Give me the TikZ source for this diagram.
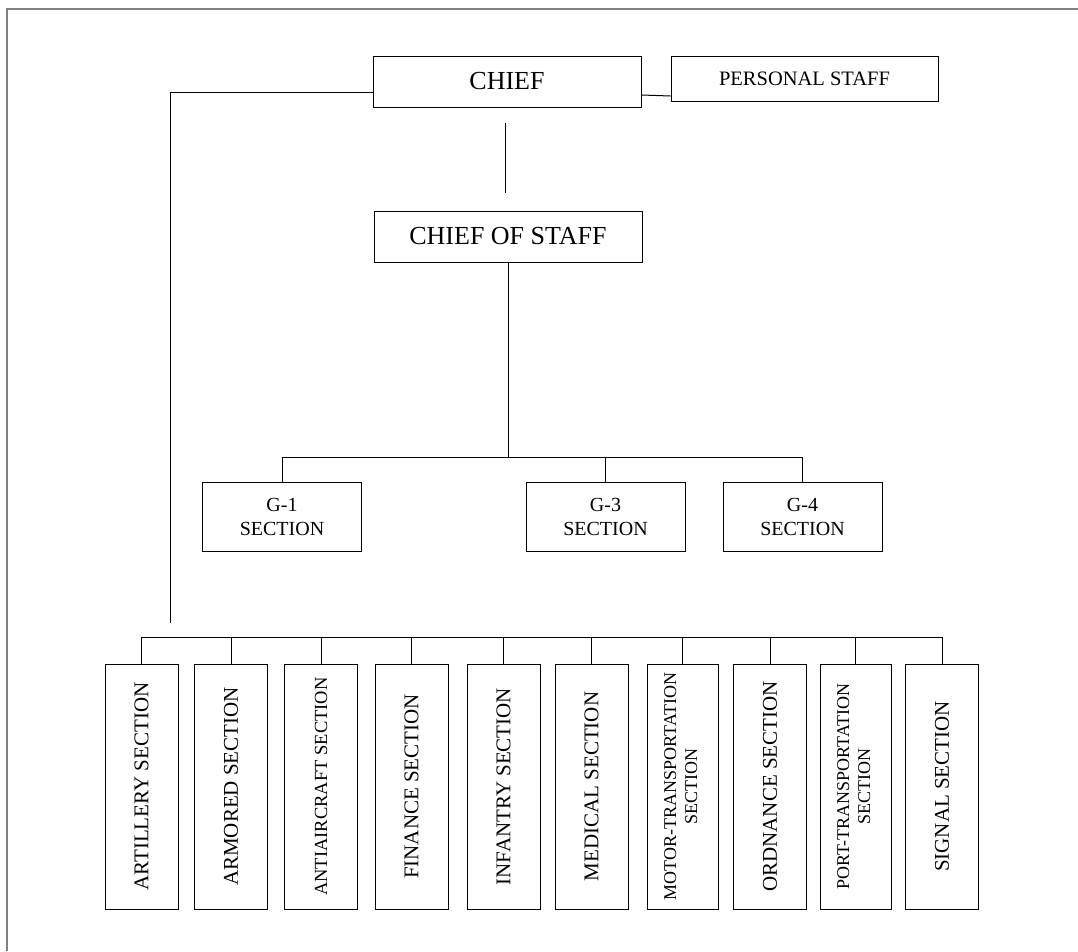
\documentclass[tikz,border=0pt]{standalone}
\usepackage{fontspec}
\setmainfont{Liberation Serif}
\usepackage{graphicx}

\tikzset{
  topbox/.style={draw, line width=1pt, minimum width=268pt, minimum height=51pt, inner sep=0pt, font=\fontsize{26}{30}\selectfont},
  staffbox/.style={draw, line width=1pt, minimum width=267pt, minimum height=45pt, inner sep=0pt, font=\fontsize{20.5}{24}\selectfont},
  gbox/.style={draw, line width=1pt, minimum width=159pt, minimum height=69pt, inner sep=0pt, align=center, font=\fontsize{20}{24}\selectfont},
  sectbox/.style={draw, line width=1pt, minimum width=73pt, minimum height=245pt, inner sep=0pt, font=\fontsize{21}{24}\selectfont},
  link/.style={line width=1pt},
}
\newcommand{\vtext}[1]{\rotatebox{90}{#1}}
\newcommand{\vtwo}[2]{\rotatebox{90}{\fontsize{18}{21}\selectfont\begin{tabular}{@{}c@{}}#1\\#2\end{tabular}}}

\begin{document}
\begin{tikzpicture}[x=1pt, y=-1pt]
    \useasboundingbox (0,0) rectangle (1078,951);
    \draw[gray, line width=1.5pt] (7,951) -- (7,9) -- (1078,9); % page frame

    \node[topbox] (chief) at (507,81.5) {CHIEF};
    \node[staffbox] (pstaff) at (804.5,78.5) {PERSONAL STAFF};
    \node[topbox] (cos) at (508,236.5) {CHIEF OF STAFF};

    \node[gbox] (g1) at (282,516.5) {G-1\\SECTION};
    \node[gbox] (g3) at (605.5,516.5) {G-3\\SECTION};
    \node[gbox] (g4) at (802.5,516.5) {G-4\\SECTION};

    \node[sectbox] (art) at (141.5,786.5) {\vtext{ARTILLERY SECTION}};
    \node[sectbox] (arm) at (231,786.5) {\vtext{ARMORED SECTION}};
    \node[sectbox, font=\fontsize{18.5}{21}\selectfont] (anti) at (321,786.5) {\vtext{ANTIAIRCRAFT SECTION}};
    \node[sectbox] (fin) at (411.5,786.5) {\vtext{FINANCE SECTION}};
    \node[sectbox] (inf) at (503.5,786.5) {\vtext{INFANTRY SECTION}};
    \node[sectbox] (med) at (591.5,786.5) {\vtext{MEDICAL SECTION}};
    \node[sectbox, minimum width=71pt] (motor) at (682.5,786.5) {\vtwo{MOTOR-TRANSPORTATION}{SECTION}};
    \node[sectbox] (ord) at (770,786.5) {\vtext{ORDNANCE SECTION}};
    \node[sectbox, minimum width=71pt] (port) at (855.5,786.5) {\vtwo{PORT-TRANSPORTATION}{SECTION}};
    \node[sectbox] (sig) at (942,786.5) {\vtext{SIGNAL SECTION}};

    \coordinate (lcorner) at (170,92); % left line corner
    \coordinate (lend) at (170,623); % left line end
    \coordinate (gaptop) at (505,123);
    \coordinate (gapbot) at (505,193);
    \coordinate (gbus) at (508,457); % G sections bus
    \coordinate (sbus) at (0,637); % sections bus

    \draw[link] (chief.west |- lcorner) -- (lcorner) -- (lend); % line to the sections
    \draw[link] ([yshift=-13.5pt]chief.east) -- ([yshift=-17.5pt]pstaff.west); % personal staff
    \draw[link] (gaptop) -- (gapbot); % chief to chief of staff
    \draw[link] (cos.south) -- (gbus);
    \draw[link] (g1.north) -- (g1.north |- gbus) -- (g4.north |- gbus) -- (g4.north);
    \draw[link] (g3.north) -- (g3.north |- gbus);
    \draw[link] (art.north) -- (art.north |- sbus) -- (sig.north |- sbus) -- (sig.north);
    \foreach \n in {arm,anti,fin,inf,med,motor,ord,port}
      \draw[link] (\n.north) -- (\n.north |- sbus);
\end{tikzpicture}
\end{document}
